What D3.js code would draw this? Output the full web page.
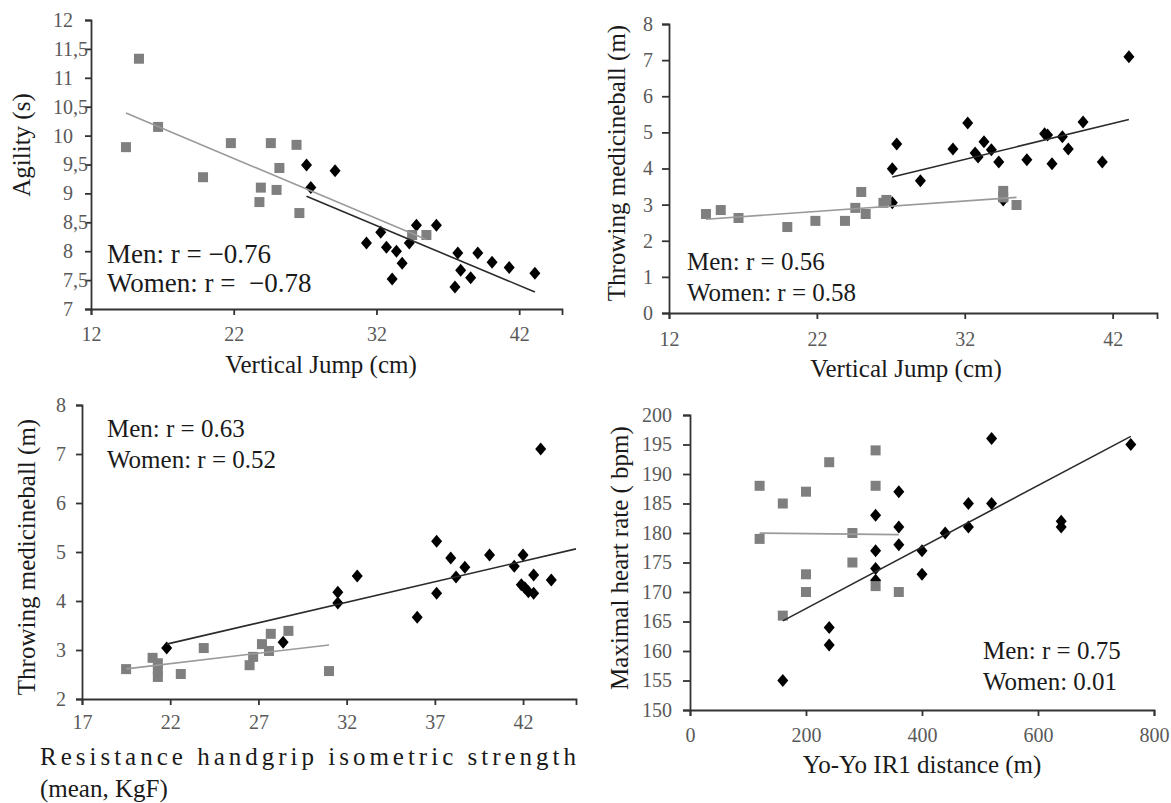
<!DOCTYPE html>
<html>
<head>
<meta charset="utf-8">
<script src="https://cdn.jsdelivr.net/npm/d3@7"></script>
<style>
  body { margin: 0; background: #fff; }
  svg text { font-family: "Liberation Serif", "Times New Roman", serif; }
  .tick text { fill: #595959; font-size: 20px; }
  .axis path, .axis line { stroke: #333; stroke-width: 1.8; }
  .title { fill: #1a1a1a; font-size: 25px; }
  .note { fill: #1a1a1a; font-size: 25px; white-space: pre; }
</style>
</head>
<body>
<svg id="fig" width="1171" height="803"></svg>
<script>
// ---- data ----
// panel 1: vertical jump (cm) vs agility (s)
var p1Women = [[14.45,9.80],[15.36,11.33],[16.7,10.15],[19.85,9.28],[21.8,9.87],[23.9,9.10],[23.8,8.85],
  [24.6,9.87],[25.2,9.44],[25.0,9.06],[26.4,9.84],[26.6,8.66],[34.5,8.28],[35.5,8.28]]
var p1Men = [[27.1,9.49],[29.1,9.39],[27.4,9.10],[31.3,8.14],[32.3,8.33],[32.7,8.07],[33.4,8.00],[33.8,7.79],
  [33.1,7.52],[34.3,8.14],[34.8,8.45],[36.2,8.45],[37.7,7.97],[37.9,7.67],[37.5,7.38],[38.6,7.54],
  [39.1,7.97],[40.1,7.81],[41.3,7.72],[43.1,7.62]]
// panel 2: vertical jump (cm) vs throwing medicine ball (m)
var p2Women = [[14.5,2.74],[15.5,2.85],[16.7,2.63],[20.0,2.38],[21.9,2.55],[23.9,2.55],[24.6,2.91],
  [25.0,3.35],[25.3,2.74],[26.5,3.05],[26.7,3.13],[34.6,3.38],[34.6,3.20],[35.5,2.99]]
var p2Men = [[27.1,3.99],[27.4,4.68],[29.0,3.66],[31.2,4.54],[32.2,5.26],[32.7,4.43],[32.9,4.32],[33.3,4.74],
  [33.8,4.52],[34.3,4.18],[36.2,4.24],[37.4,4.96],[37.6,4.93],[37.9,4.13],[38.6,4.88],[39.0,4.54],
  [40.0,5.29],[41.3,4.18],[43.1,7.09],[27.1,3.05],[34.6,3.13]]
// panel 3: handgrip strength (KgF) vs throwing medicine ball (m)
var p3Women = [[19.5,2.61],[21.0,2.84],[21.3,2.73],[21.3,2.60],[21.3,2.45],[22.6,2.51],[23.9,3.04],
  [26.5,2.69],[26.7,2.86],[27.2,3.12],[27.6,2.98],[27.7,3.33],[28.7,3.39],[31.0,2.57]]
var p3Men = [[21.8,3.04],[28.4,3.16],[31.5,4.18],[31.5,3.96],[32.6,4.51],[36.0,3.67],[37.1,5.22],[37.1,4.16],
  [37.9,4.88],[38.2,4.49],[38.7,4.69],[40.1,4.94],[41.5,4.71],[42.0,4.94],[41.9,4.33],[42.1,4.27],
  [42.3,4.19],[42.6,4.16],[42.6,4.53],[43.0,7.10],[43.6,4.43]]
// panel 4: Yo-Yo IR1 distance (m) vs maximal heart rate (bpm)
var p4Women = [[120,188],[120,179],[160,185],[160,166],[200,187],[200,173],[200,170],[240,192],
  [280,180],[280,175],[320,194],[320,188],[320,171],[360,170]]
var p4Men = [[160,155],[240,164],[240,161],[320,183],[320,177],[320,174],[320,172],[360,187],[360,181],
  [360,178],[400,177],[400,173],[440,180],[480,185],[480,181],[520,196],[520,185],[640,182],[640,181],[760,195]]

var jumpTicks = [12, 22, 32, 42]
var agilityTicks = [7, 7.5, 8, 8.5, 9, 9.5, 10, 10.5, 11, 11.5, 12]
var throwTicks = [0, 1, 2, 3, 4, 5, 6, 7, 8]
var throwTicks3 = [2, 3, 4, 5, 6, 7, 8]
var gripTicks = [17, 22, 27, 32, 37, 42]
var yoyoTicks = [0, 200, 400, 600, 800]
var hrTicks = [150, 155, 160, 165, 170, 175, 180, 185, 190, 195, 200]

var p1Notes = ["Men: r = \u22120.76", "Women: r =  \u22120.78"]
var p2Notes = ["Men: r = 0.56", "Women: r = 0.58"]
var p3Notes = ["Men: r = 0.63", "Women: r = 0.52"]
var p4Notes = ["Men: r = 0.75", "Women: 0.01"]

var svg = d3.select("#fig")

function fit(pts){
  var mx = d3.mean(pts, function(d){ return d[0] })
    , my = d3.mean(pts, function(d){ return d[1] })
    , sxy = d3.sum(pts, function(d){ return (d[0]-mx)*(d[1]-my) })
    , sxx = d3.sum(pts, function(d){ return (d[0]-mx)*(d[0]-mx) })
    , b = sxy/sxx
  return function(x){ return my + b*(x-mx) }
}

function commaFmt(d){ return String(d).replace(".", ",") }

function drawPanel(c){
  var x = d3.scaleLinear().domain(c.xDomain).range(c.xRange)
    , y = d3.scaleLinear().domain(c.yDomain).range(c.yRange)
    , g = svg.append("g")

  var yAxis = d3.axisLeft(y).tickValues(c.yTicks).tickSizeOuter(0)
    .tickSize(c.yTick).tickPadding(c.yPad).tickFormat(c.yFmt || d3.format("d"))
  var gy = g.append("g").attr("class","axis")
    .attr("transform","translate("+c.xRange[0]+",0)").call(yAxis)
  if (c.splitDecimals){
    // integer part right-aligned, ",5" hanging to the right
    gy.selectAll(".tick").each(function(d){
      var t = d3.select(this).select("text"), s = commaFmt(d), i = s.indexOf(",")
      if (i < 0) return
      t.text(s.slice(0, i))
      d3.select(this).append("text").attr("x", t.attr("x")).attr("dy", t.attr("dy"))
        .attr("text-anchor","start").text(s.slice(i))
    })
  }
  var xAxis = d3.axisBottom(x).tickValues(c.xTicks).tickSizeOuter(0)
    .tickSize(6).tickPadding(c.xPad).tickFormat(d3.format("d"))
  g.append("g").attr("class","axis")
    .attr("transform","translate(0,"+c.yRange[0]+")").call(xAxis)

  // men: black diamonds, women: grey squares
  g.append("g").selectAll("path").data(c.men).enter().append("path")
    .attr("transform", function(d){ return "translate("+x(d[0])+","+y(d[1])+")" })
    .attr("d","M0,-6.5L5.5,0L0,6.5L-5.5,0Z").attr("fill","#000")
  g.append("g").selectAll("rect").data(c.women).enter().append("rect")
    .attr("x", function(d){ return x(d[0])-5 }).attr("y", function(d){ return y(d[1])-5 })
    .attr("width",10).attr("height",10).attr("fill","#7f7f7f")

  // linear trend lines
  function trend(pts, color, x1){
    var f = fit(pts), x0 = d3.min(pts, function(d){ return d[0] })
    x1 = x1 || d3.max(pts, function(d){ return d[0] })
    g.append("line").attr("x1",x(x0)).attr("y1",y(f(x0))).attr("x2",x(x1)).attr("y2",y(f(x1)))
      .attr("stroke",color).attr("stroke-width",1.6)
  }
  trend(c.women, "#9a9a9a")
  trend(c.men, "#2a2a2a", c.menTo)

  g.selectAll(".note").data(c.notes).enter().append("text").attr("class","note")
    .style("font-size", c.noteSize ? c.noteSize+"px" : null)
    .attr("x", c.noteX).attr("y", function(d,i){ return c.noteY + i*(c.noteGap || 31) })
    .text(function(d){ return d })

  g.append("text").attr("class","title")
    .attr("transform","translate("+c.yTitle[0]+","+c.yTitle[1]+") rotate(-90)")
    .attr("text-anchor","middle").text(c.yLabel)
  var xt = g.append("text").attr("class","title")
    .attr("x", c.xTitle[0]).attr("y", c.xTitle[1]).attr("text-anchor", c.xAnchor || "middle")
  c.xLabel.forEach(function(s, i){
    var ts = xt.append("tspan").attr("x", c.xTitle[0]).attr("dy", i ? 32 : 0).text(s)
    // first line of the handgrip title is justified across the panel
    if (i == 0 && c.xFirstWidth) ts.attr("textLength", c.xFirstWidth).attr("lengthAdjust","spacing")
  })
}

drawPanel({
  xDomain:[12,45], xRange:[91,562], yDomain:[7,12], yRange:[309,20],
  xTicks:jumpTicks, yTicks:agilityTicks, yFmt:commaFmt, splitDecimals:true,
  yTick:6, yPad:12, xPad:12,
  women:p1Women, men:p1Men, notes:p1Notes, noteX:107, noteY:263, noteSize:27, noteGap:29,
  yLabel:"Agility (s)", yTitle:[30,145], xLabel:["Vertical Jump (cm)"], xTitle:[321,373]
})
drawPanel({
  xDomain:[12,45], xRange:[669,1157], yDomain:[0,8], yRange:[313,24],
  xTicks:jumpTicks, yTicks:throwTicks, yTick:7, yPad:9, xPad:13,
  women:p2Women, men:p2Men, notes:p2Notes, noteX:687, noteY:270,
  yLabel:"Throwing medicineball (m)", yTitle:[625,163], xLabel:["Vertical Jump (cm)"], xTitle:[906,377]
})
drawPanel({
  xDomain:[17,45], xRange:[82,576], yDomain:[2,8], yRange:[699,405],
  xTicks:gripTicks, yTicks:throwTicks3, yTick:6, yPad:10, xPad:10, menTo:45,
  women:p3Women, men:p3Men, notes:p3Notes, noteX:107, noteY:437,
  yLabel:"Throwing medicineball (m)", yTitle:[35,557],
  xLabel:["Resistance handgrip isometric strength", "(mean, KgF)"], xTitle:[40,765], xAnchor:"start",
  xFirstWidth:536
})
drawPanel({
  xDomain:[0,800], xRange:[690,1154], yDomain:[150,200], yRange:[710,415],
  xTicks:yoyoTicks, yTicks:hrTicks, yTick:7, yPad:11, xPad:12,
  women:p4Women, men:p4Men, notes:p4Notes, noteX:983, noteY:659,
  yLabel:"Maximal heart rate ( bpm)", yTitle:[628,558], xLabel:["Yo-Yo IR1 distance (m)"], xTitle:[922,773]
})
</script>
</body>
</html>
